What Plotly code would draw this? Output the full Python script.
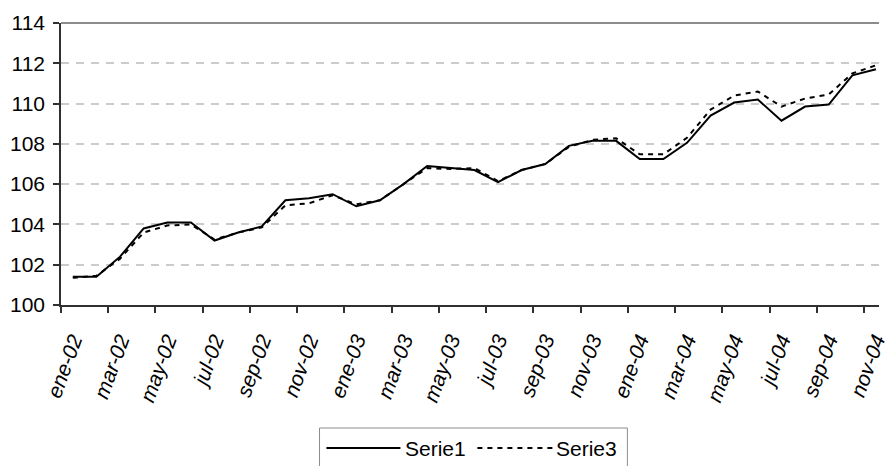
import plotly.graph_objects as go

# Monthly periods (Spanish month abbreviations)
periodos = [
    "ene-02", "feb-02", "mar-02", "abr-02", "may-02", "jun-02",
    "jul-02", "ago-02", "sep-02", "oct-02", "nov-02", "dic-02",
    "ene-03", "feb-03", "mar-03", "abr-03", "may-03", "jun-03",
    "jul-03", "ago-03", "sep-03", "oct-03", "nov-03", "dic-03",
    "ene-04", "feb-04", "mar-04", "abr-04", "may-04", "jun-04",
    "jul-04", "ago-04", "sep-04", "oct-04", "nov-04",
]

serie1 = [
    101.4, 101.4, 102.4, 103.8, 104.1, 104.1, 103.2, 103.6, 103.9, 105.2,
    105.3, 105.5, 104.9, 105.2, 106.0, 106.9, 106.8, 106.7, 106.1, 106.7,
    107.0, 107.9, 108.15, 108.15, 107.25, 107.25, 108.05, 109.4, 110.05, 110.2,
    109.15, 109.85, 109.95, 111.4, 111.7,
]

serie3 = [
    101.35, 101.45, 102.3, 103.6, 103.95, 104.0, 103.25, 103.6, 103.85, 104.95,
    105.05, 105.45, 105.0, 105.2, 106.0, 106.8, 106.75, 106.8, 106.15, 106.7,
    107.0, 107.85, 108.2, 108.28, 107.48, 107.48, 108.3, 109.7, 110.4, 110.6,
    109.85, 110.25, 110.45, 111.5, 111.9,
]

y_ticks = [100, 102, 104, 106, 108, 110, 112, 114]

FONT = "Liberation Sans, Arial, sans-serif"
W, H = 890, 466
ML, MT, MB = 61, 23, 161
PW, PH = W - ML, H - MT - MB
SLOT = 23.94  # pixel width of one monthly category

idx = list(range(len(periodos)))

fig = go.Figure()
fig.add_trace(go.Scatter(
    x=idx, y=serie1, mode="lines", name="Serie1",
    line=dict(color="black", width=2),
))
fig.add_trace(go.Scatter(
    x=idx, y=serie3, mode="lines", name="Serie3",
    line=dict(color="black", width=2, dash="5px,5px"),
))


def px_x(p):
    return (p - ML) / PW


def px_y(p):
    return (MT + PH - p) / PH


shapes = [
    # plot-area top border
    dict(type="line", xref="paper", yref="paper", x0=0, x1=1, y0=1, y1=1,
         line=dict(color="#8c8c8c", width=2), layer="below"),
    # legend frame
    dict(type="rect", xref="paper", yref="paper",
         x0=px_x(323), x1=px_x(635), y0=px_y(476), y1=px_y(428),
         line=dict(color="#8c8c8c", width=1), fillcolor="white"),
    # legend samples
    dict(type="line", xref="paper", yref="paper",
         x0=px_x(330), x1=px_x(405), y0=px_y(448), y1=px_y(448),
         line=dict(color="black", width=2)),
    dict(type="line", xref="paper", yref="paper",
         x0=px_x(483), x1=px_x(561), y0=px_y(448), y1=px_y(448),
         line=dict(color="black", width=2, dash="5px,5px")),
]

annotations = [
    dict(text="Serie1", xref="paper", yref="paper", x=px_x(408), y=px_y(448),
         xanchor="left", yanchor="middle", showarrow=False,
         font=dict(family=FONT, size=21, color="black")),
    dict(text="Serie3", xref="paper", yref="paper", x=px_x(561), y=px_y(448),
         xanchor="left", yanchor="middle", showarrow=False,
         font=dict(family=FONT, size=21, color="black")),
]

fig.update_layout(
    width=W, height=H,
    margin=dict(l=ML, r=0, t=MT, b=MB, pad=0),
    paper_bgcolor="white", plot_bgcolor="white",
    showlegend=False,
    shapes=shapes, annotations=annotations,
    font=dict(family=FONT, color="black"),
)

fig.update_xaxes(
    range=[-0.5, PW / SLOT - 0.5],
    tickmode="array", tickvals=idx[::2], ticktext=periodos[::2],
    ticks="", tickangle=-70,
    tickfont=dict(family=FONT, size=21, style="italic", color="black"),
    ticklabelstandoff=13, ticklabeloverflow="allow",
    showline=True, linecolor="#303030", linewidth=1.5,
    showgrid=False, zeroline=False,
    minor=dict(tickmode="array", tickvals=[i - 0.5 for i in idx[::2]],
               ticks="outside", ticklen=6, tickwidth=1.5, tickcolor="#303030",
               showgrid=False),
)

fig.update_yaxes(
    range=[100, 114], tickmode="array", tickvals=y_ticks,
    ticks="outside", ticklen=6, tickwidth=1.5, tickcolor="#303030",
    tickfont=dict(family=FONT, size=21, color="black"),
    ticklabelstandoff=4,
    showline=True, linecolor="#303030", linewidth=1.5,
    showgrid=True, gridcolor="#cccccc", gridwidth=1.5, griddash="8px,7px",
    zeroline=False,
)

fig.write_html("out.html")
